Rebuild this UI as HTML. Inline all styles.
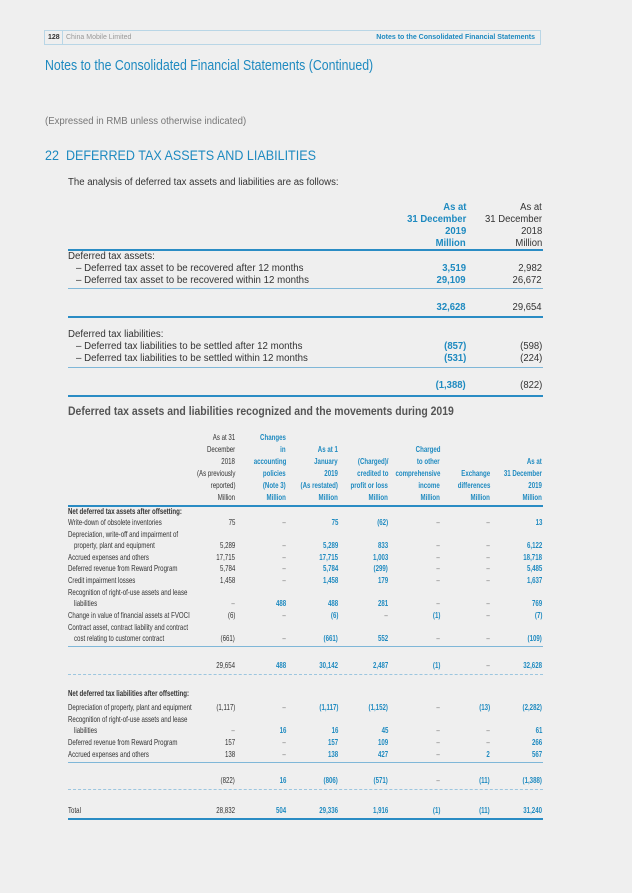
<!DOCTYPE html>
<html><head><meta charset="utf-8">
<style>
body{margin:0;background:#efefef;}
#pg{position:relative;width:632px;height:893px;background:#efefef;font-family:"Liberation Sans",sans-serif;color:#333;overflow:hidden;}
.a{position:absolute;white-space:nowrap;line-height:1;}
.b{color:#1e8ac0;}
.bold{font-weight:bold;}
.ln{position:absolute;height:0;}
.t2{font-size:8.5px;}
</style></head><body>
<div id="pg">
<div class="a" style="left:44px;top:30px;width:497px;height:15px;border:1px solid #b9d6e6;box-sizing:border-box;"></div>
<div class="a" style="left:62px;top:30px;height:15px;border-left:1px solid #b9d6e6;"></div>
<div class="a bold" style="left:48px;top:34px;font-size:7px;color:#333;">128</div>
<div class="a" style="left:66px;top:34px;font-size:7px;color:#999;">China Mobile Limited</div>
<div class="a bold b" style="right:97px;top:34px;font-size:7px;">Notes to the Consolidated Financial Statements</div>
<div class="a b" style="left:45px;top:59px;font-size:14.5px;transform:scaleX(0.85);transform-origin:left;">Notes to the Consolidated Financial Statements (Continued)</div>
<div class="a" style="left:45px;top:117px;font-size:10px;color:#777;transform:scaleX(0.96);transform-origin:left;">(Expressed in RMB unless otherwise indicated)</div>
<div class="a b" style="left:45px;top:149px;font-size:13.5px;transform:scaleX(0.93);transform-origin:left;">22&nbsp;&nbsp;DEFERRED TAX ASSETS AND LIABILITIES</div>
<div class="a" style="left:68px;top:178px;font-size:10px;transform:scaleX(0.96);transform-origin:left;">The analysis of deferred tax assets and liabilities are as follows:</div>
<div class="a bold" style="left:68px;top:405px;font-size:12px;color:#555;transform:scaleX(0.87);transform-origin:left;">Deferred tax assets and liabilities recognized and the movements during 2019</div>
<div id="t1"></div>
<div id="t2"></div>
</div>
<script>
const pg=document.getElementById('pg');
function txt(parent,s,x,y,fs,cls,right,sx){const d=document.createElement('div');d.className='a '+(cls||'');d.textContent=s;d.style.top=(y-fs*0.5)+'px';d.style.fontSize=fs+'px';if(right){d.style.right=(632-x)+'px';d.style.transformOrigin='right';}else{d.style.left=x+'px';d.style.transformOrigin='left';}if(sx)d.style.transform='scaleX('+sx+')';parent.appendChild(d);return d;}
function line(parent,x1,x2,y,w,style,col){const d=document.createElement('div');d.className='ln';d.style.left=x1+'px';d.style.width=(x2-x1)+'px';d.style.top=y+'px';d.style.borderTop=w+'px '+(style||'solid')+' '+(col||'#2a8cc4');parent.appendChild(d);return d;}

// Table 1 data
const t1Header2019=['As at','31 December','2019','Million'];
const t1Header2018=['As at','31 December','2018','Million'];
const t1Labels=['Deferred tax assets:','– Deferred tax asset to be recovered after 12 months','– Deferred tax asset to be recovered within 12 months','','Deferred tax liabilities:','– Deferred tax liabilities to be settled after 12 months','– Deferred tax liabilities to be settled within 12 months',''];
const t1Vals2019=['','3,519','29,109','32,628','','(857)','(531)','(1,388)'];
const t1Vals2018=['','2,982','26,672','29,654','','(598)','(224)','(822)'];
const t1RowY=[257,269,281,308,335,347,359,386];
const t1=document.getElementById('t1');
t1Header2019.forEach((s,i)=>{const e=txt(t1,s,466,208+i*12,10,'b bold',true,0.95);

});
t1Header2018.forEach((s,i)=>{const e=txt(t1,s,542,208+i*12,10,'',true,0.95);

});
t1Labels.forEach((s,i)=>{if(!s)return;const e=txt(t1,s,s[0]=='–'?76:68,t1RowY[i],10,'',false,0.97);

});
t1Vals2019.forEach((s,i)=>{if(!s)return;const e=txt(t1,s,466,t1RowY[i],10,'b bold',true,0.95);

});
t1Vals2018.forEach((s,i)=>{if(!s)return;const e=txt(t1,s,542,t1RowY[i],10,'',true,0.95);

});
[[249,2],[288,1],[316,2],[367,1],[395,2]].forEach(l=>{const e=line(t1,68,543,l[0],l[1],'solid',l[1]==1?'#7fb7d8':'#2a8cc4');

});

// Table 2 data
const colRight=[235,286,338,388,440,490,542];
const t2Headers=[
 ['As at 31','December','2018','(As previously','reported)','Million'],
 ['Changes','in','accounting','policies','(Note 3)','Million'],
 ['As at 1','January','2019','(As restated)','Million'],
 ['(Charged)/','credited to','profit or loss','Million'],
 ['Charged','to other','comprehensive','income','Million'],
 ['Exchange','differences','Million'],
 ['As at','31 December','2019','Million']];
const t2Labels=['Net deferred tax assets after offsetting:','Write-down of obsolete inventories','Depreciation, write-off and impairment of','  property, plant and equipment','Accrued expenses and others','Deferred revenue from Reward Program','Credit impairment losses','Recognition of right-of-use assets and lease','  liabilities','Change in value of financial assets at FVOCI','Contract asset, contract liability and contract','  cost relating to customer contract','','Net deferred tax liabilities after offsetting:','Depreciation of property, plant and equipment','Recognition of right-of-use assets and lease','  liabilities','Deferred revenue from Reward Program','Accrued expenses and others','','Total'];
const t2RowY=[511,522,534,545,557,568,580,592,603,615,627,638,665,693,707,719,730,742,754,780,810];
const t2Values=[
 null,['75','–','75','(62)','–','–','13'],null,
 ['5,289','–','5,289','833','–','–','6,122'],
 ['17,715','–','17,715','1,003','–','–','18,718'],
 ['5,784','–','5,784','(299)','–','–','5,485'],
 ['1,458','–','1,458','179','–','–','1,637'],null,
 ['–','488','488','281','–','–','769'],
 ['(6)','–','(6)','–','(1)','–','(7)'],null,
 ['(661)','–','(661)','552','–','–','(109)'],
 ['29,654','488','30,142','2,487','(1)','–','32,628'],null,
 ['(1,117)','–','(1,117)','(1,152)','–','(13)','(2,282)'],null,
 ['–','16','16','45','–','–','61'],
 ['157','–','157','109','–','–','266'],
 ['138','–','138','427','–','2','567'],
 ['(822)','16','(806)','(571)','–','(11)','(1,388)'],
 ['28,832','504','29,336','1,916','(1)','(11)','31,240']];
const t2=document.getElementById('t2');
const SX=0.72;
t2Headers.forEach((h,c)=>{const off=6-h.length;h.forEach((s,i)=>{const e=txt(t2,s,colRight[c],437+(i+off)*12,8.5,'t2'+(c>0?' b bold':''),true,SX);

});});
t2Labels.forEach((s,i)=>{if(!s)return;const e=txt(t2,s.trim(),s.startsWith('  ')?74:68,t2RowY[i],8.5,'t2'+(s.startsWith('Net')?' bold':''),false,SX);

});
t2Values.forEach((row,i)=>{if(!row)return;row.forEach((s,c)=>{const cls='t2'+(c>0&&s!=='–'?' b bold':'');const e=txt(t2,s,colRight[c],t2RowY[i],8.5,cls,true,SX);if(s==='–')e.style.color='#777';

});});
[[505,2,'solid','#2a8cc4'],[646,1,'solid','#7fb7d8'],[674,1,'dashed','#9cc6df'],[762,1,'solid','#7fb7d8'],[789,1,'dashed','#9cc6df'],[818,2,'solid','#2a8cc4']].forEach(l=>{const e=line(t2,68,543,l[0],l[1],l[2],l[3]);

});
</script>
</body></html>
